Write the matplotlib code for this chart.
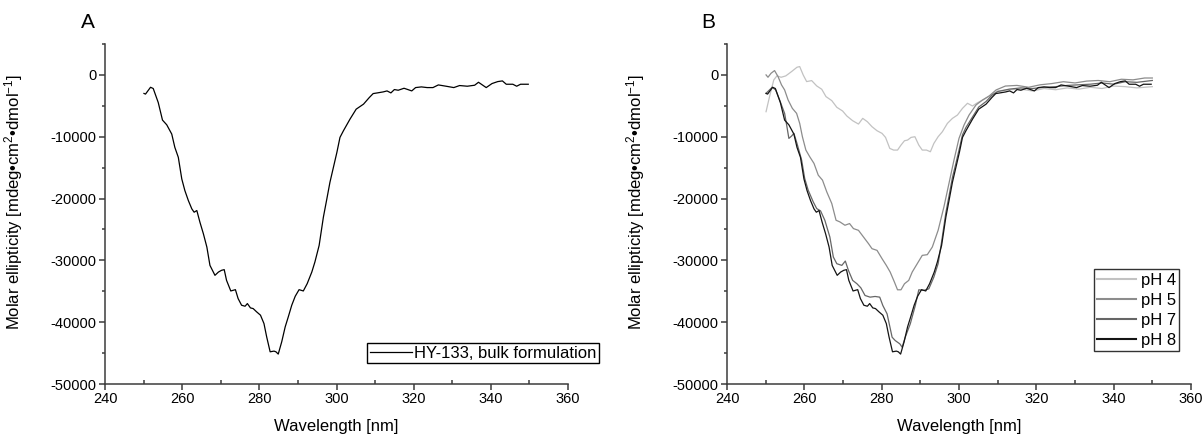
import numpy as np
import matplotlib
matplotlib.use('Agg')
import matplotlib.pyplot as plt
from matplotlib.ticker import MultipleLocator

plt.rcParams['font.family'] = ['Liberation Sans', 'DejaVu Sans']
plt.rcParams['mathtext.fontset'] = 'custom'
plt.rcParams['mathtext.rm'] = 'Liberation Sans'
plt.rcParams['mathtext.default'] = 'regular'
plt.rcParams['axes.unicode_minus'] = False

# data (wavelength in nm, molar ellipticity)
bulk_wl = [250.1, 250.5, 251.8, 252.5, 253.8, 254.9, 256.0, 257.3, 258.1, 259.0,
           259.9, 260.7, 261.6, 262.5, 263.1, 263.8, 264.6, 265.5, 266.4, 267.2,
           268.5, 269.4, 270.2, 270.9, 271.5, 272.6, 273.8, 274.5, 275.4, 276.3,
           276.9, 277.7, 278.4, 279.3, 280.3, 281.2, 281.9, 282.8, 283.8, 284.3,
           284.9, 285.8, 286.7, 287.5, 288.4, 289.3, 290.3, 291.4, 292.4, 293.6,
           294.4, 295.5, 296.6, 297.5, 298.3, 299.2, 300.1, 300.9, 301.8, 303.5,
           305.1, 307.0, 308.5, 309.5, 310.6, 312.1, 313.1, 314.1, 315.0, 316.0,
           317.5, 318.5, 319.5, 320.5, 322.0, 323.5, 325.0, 326.4, 328.4, 330.4,
           331.9, 333.9, 335.8, 336.8, 337.8, 338.8, 340.3, 341.8, 343.0, 344.0,
           345.7, 346.7, 347.7, 349.7]
bulk_val = [-3000, -3100, -2000, -2200, -4470, -7310, -8070, -9570, -11720, -13330,
            -16830, -18710, -20320, -21670, -22210, -21940, -23820, -25700, -27850, -30810,
            -32420, -31890, -31610, -31500, -33230, -34950, -34740, -36180, -37260, -37420,
            -36990, -37690, -37800, -38330, -38870, -40220, -42370, -44790, -44680, -44790,
            -45160, -43180, -40760, -39150, -37260, -35810, -34740, -34950, -33770, -31890,
            -30270, -27580, -23010, -20050, -17370, -14950, -12530, -10110, -9030, -7150,
            -5540, -4730, -3660, -3020, -2910, -2750, -2590, -2910, -2370, -2480,
            -2160, -2370, -2590, -2050, -1940, -2050, -2050, -1620, -1830, -2050,
            -1720, -1830, -1670, -1190, -1620, -2050, -1400, -1080, -970, -1510,
            -1510, -1830, -1510, -1510]

ph4_wl = [250.1, 251.0, 252.1, 252.9, 254.0, 255.2, 256.7, 258.1, 258.8, 259.7,
          260.6, 261.9, 263.2, 264.5, 265.6, 267.1, 268.4, 269.9, 271.0, 272.5,
          274.0, 275.1, 276.3, 277.5, 278.8, 280.1, 281.0, 282.1, 283.1, 284.1,
          285.0, 285.9, 286.7, 287.6, 288.6, 289.6, 290.5, 291.6, 292.6, 293.5,
          294.6, 295.7, 297.0, 298.3, 299.6, 300.9, 302.2, 303.5, 304.8, 306.5,
          308.3, 310.0, 313.0, 316.0, 319.0, 322.0, 325.0, 328.0, 331.0, 334.0,
          337.0, 340.0, 343.0, 346.0, 350.0]
ph4_val = [-5950, -3510, -810, -160, -380, -160, 540, 1240, 1350, 0,
           -1080, -920, -1780, -2320, -3510, -4160, -5240, -5840, -6650, -7410,
           -7950, -7030, -7570, -8380, -9030, -9460, -10110, -11890, -12160, -12160,
           -11350, -10650, -10540, -10110, -10000, -11350, -12160, -12160, -12430, -11080,
           -10000, -9190, -7840, -7030, -6490, -5410, -4590, -5030, -4490, -3950,
           -3240, -2600, -2400, -2300, -2600, -2200, -2400, -2100, -2300, -2000,
           -2200, -1800, -1900, -2100, -1900]

ph5_wl = [250.1, 250.6, 251.4, 252.3, 253.2, 254.1, 254.9, 255.8, 256.9, 258.0,
          258.8, 259.5, 260.4, 261.4, 262.5, 263.6, 264.7, 265.8, 267.1, 268.2,
          269.2, 270.5, 271.7, 272.7, 274.0, 275.3, 276.6, 277.5, 278.8, 280.1,
          281.2, 282.2, 283.3, 284.1, 285.0, 285.9, 287.0, 287.9, 289.2, 290.5,
          291.8, 293.1, 294.6, 296.1, 297.4, 298.7, 300.0, 301.3, 302.6, 304.4,
          306.1, 307.8, 309.6, 312.0, 315.0, 318.0, 321.0, 324.0, 327.0, 330.0,
          333.0, 336.0, 339.0, 342.0, 345.0, 348.0, 350.0]
ph5_val = [0, -380, 270, 700, -270, -1620, -2430, -4050, -5410, -6220,
           -7840, -10000, -12160, -13240, -14320, -16220, -17030, -18920, -20810, -23510,
           -23780, -24320, -24050, -24860, -25140, -26220, -27300, -28110, -28380, -29730,
           -30810, -31890, -33510, -34760, -34760, -33780, -33240, -31890, -30540, -29190,
           -29080, -27840, -25140, -21350, -17570, -13780, -10270, -8110, -6490, -4860,
           -4050, -3410, -2430, -1800, -1700, -2000, -1600, -1400, -1100, -1300,
           -1000, -900, -1100, -700, -800, -500, -500]

ph7_wl = [250.1, 251.7, 252.6, 253.6, 254.9, 255.5, 256.0, 256.7, 257.3, 258.1,
          259.3, 260.1, 261.0, 262.3, 263.2, 264.2, 265.3, 266.6, 267.5, 268.4,
          269.7, 270.6, 271.4, 272.5, 273.6, 274.6, 275.7, 277.0, 278.3, 279.5,
          280.3, 281.4, 282.7, 283.5, 284.7, 285.3, 286.1, 287.4, 288.7, 289.6,
          290.9, 292.2, 293.5, 294.6, 295.5, 296.6, 297.5, 298.3, 299.2, 300.1,
          300.9, 301.8, 303.5, 305.1, 307.0, 308.5, 310.0, 313.0, 316.0, 319.0,
          322.0, 325.0, 328.0, 331.0, 334.0, 337.0, 340.0, 343.0, 346.0, 350.0]
ph7_val = [-2970, -2000, -2430, -4050, -6220, -8380, -10270, -9890, -9460, -11080,
           -13780, -16760, -18650, -20540, -21620, -22000, -23510, -26220, -29460, -30540,
           -30810, -30110, -31620, -33240, -33780, -34430, -35680, -35950, -35840, -35950,
           -37300, -38650, -42430, -42970, -43510, -44050, -42430, -40270, -37300, -34760,
           -34860, -34600, -32700, -30540, -27000, -22300, -19300, -16600, -14300, -11900,
           -9700, -8500, -6800, -5200, -4300, -3300, -2700, -2300, -2100, -2200,
           -2000, -1900, -1700, -1600, -1500, -1300, -1500, -1100, -1200, -900]

# pH 8 is the same trace as the bulk formulation in panel A
ph8_wl = bulk_wl
ph8_val = bulk_val

series_b = [('pH 4', ph4_wl, ph4_val, '#c2c2c2'),
            ('pH 5', ph5_wl, ph5_val, '#8c8c8c'),
            ('pH 7', ph7_wl, ph7_val, '#666666'),
            ('pH 8', ph8_wl, ph8_val, '#141414')]

spine_col = '#3c3c3c'


def style_axes(ax):
    ax.set_xlim(240, 360)
    ax.set_ylim(-50000, 5000)
    ax.spines['top'].set_visible(False)
    ax.spines['right'].set_visible(False)
    for s in ('left', 'bottom'):
        ax.spines[s].set_color(spine_col)
        ax.spines[s].set_linewidth(1.1)
    ax.xaxis.set_major_locator(MultipleLocator(20))
    ax.xaxis.set_minor_locator(MultipleLocator(10))
    ax.yaxis.set_major_locator(MultipleLocator(10000))
    ax.yaxis.set_minor_locator(MultipleLocator(5000))
    ax.set_yticks(np.arange(-50000, 1, 10000))
    ax.tick_params(axis='x', which='major', direction='out', length=4, width=1.1,
                   color=spine_col, labelsize=10.5, pad=2)
    ax.tick_params(axis='x', which='minor', direction='in', length=3, width=1.1,
                   color=spine_col)
    ax.tick_params(axis='y', which='major', direction='out', length=4, width=1.1,
                   color=spine_col, labelsize=10.5, pad=2)
    ax.tick_params(axis='y', which='minor', direction='out', length=2.5, width=1.1,
                   color=spine_col)
    ax.set_xlabel('Wavelength [nm]', fontsize=12, va='top')
    ax.xaxis.set_label_coords(0.5, -0.104)
    ax.set_ylabel('Molar ellipticity [mdeg\u2022cm$^{2}$\u2022dmol$^{-1}$]', fontsize=12)
    ax.yaxis.set_label_coords(-0.172, 0.535)


fig = plt.figure(figsize=(12.04, 4.34), dpi=100)
ax_a = fig.add_axes([105 / 1204, 50 / 434, 463 / 1204, 340 / 434])
ax_b = fig.add_axes([727 / 1204, 50 / 434, 464 / 1204, 340 / 434])

ax_a.plot(bulk_wl, bulk_val, color='black', lw=0.9, label='HY-133, bulk formulation')
style_axes(ax_a)
ax_a.legend(loc='lower right', bbox_to_anchor=(599 / 1204, 1 - 363 / 434),
            bbox_transform=fig.transFigure, fontsize=12, frameon=True,
            fancybox=False, edgecolor='black', framealpha=1, borderaxespad=0,
            borderpad=0.15, handlelength=2.5, handletextpad=0.15)

for name, wl, val, col in series_b:
    ax_b.plot(wl, val, color=col, lw=0.9, label=name)
style_axes(ax_b)
lg = ax_b.legend(loc='lower right', bbox_to_anchor=(1179 / 1204, 1 - 351 / 434),
                 bbox_transform=fig.transFigure, fontsize=12, frameon=True,
                 fancybox=False, edgecolor='#333333', framealpha=1, borderaxespad=0,
                 borderpad=0.2, labelspacing=0.3, handlelength=2.3, handletextpad=0.3)
for line in lg.get_lines():
    line.set_linewidth(1.5)

fig.text(88 / 1204, 1 - 22 / 434, 'A', fontsize=15, ha='center', va='center')
fig.text(708 / 1204, 1 - 22 / 434, 'B', fontsize=15, ha='center', va='center')

fig.savefig('out.png', dpi=100)
